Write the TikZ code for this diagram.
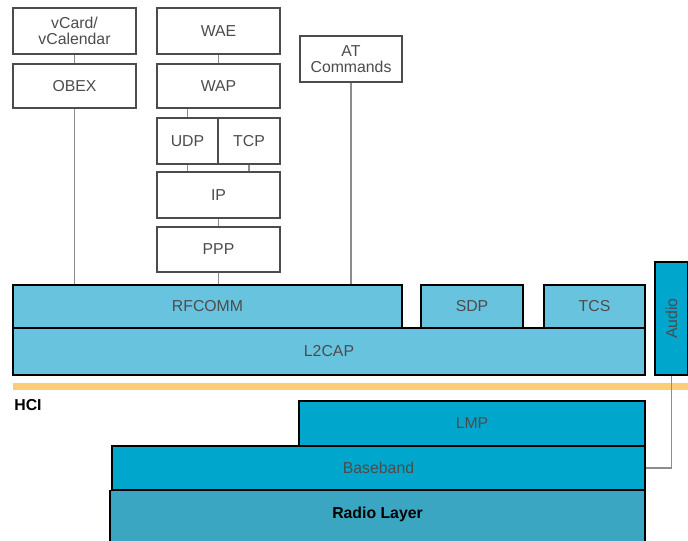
\documentclass[tikz,border=0pt]{standalone}
\usepackage{fontspec}
\setmainfont{Liberation Sans}
\usepackage{tikz}
\definecolor{gris}{rgb}{0.55,0.55,0.55}
\definecolor{grisfonce}{rgb}{0.3,0.3,0.3}
\definecolor{bleupale}{RGB}{104,196,222}
\definecolor{bleuvif}{RGB}{0,166,204}
\definecolor{bleuradio}{RGB}{58,166,194}
\definecolor{orangehci}{RGB}{252,204,120}

\begin{document}
\begin{tikzpicture}[x=0.02cm, y=-0.02cm, font=\fontsize{9}{9.5}\selectfont]
  \tikzstyle{proto}=[rectangle, draw=grisfonce, fill=white, text=grisfonce, inner sep=0pt, align=center, line width=0.6pt]
  \tikzstyle{layer}=[rectangle, draw=black, text=grisfonce, inner sep=0pt, line width=0.8pt]
  \tikzstyle{link}=[draw=gris, line width=0.6pt]

  \useasboundingbox (0,0) rectangle (688,540);

	% upper protocols
	\node[proto, minimum width=2.46cm, minimum height=0.92cm] (VCARD) at (74.5,31) {vCard/\\vCalendar};
	\node[proto, minimum width=2.46cm, minimum height=0.88cm] (OBEX) at (74.5,86) {OBEX};
	\node[proto, minimum width=2.46cm, minimum height=0.92cm] (WAE) at (218.5,31) {WAE};
	\node[proto, minimum width=2.46cm, minimum height=0.88cm] (WAP) at (218.5,86) {WAP};
	\node[proto, minimum width=1.22cm, minimum height=0.92cm] (UDP) at (187.5,141) {UDP};
	\node[proto, minimum width=1.24cm, minimum height=0.92cm] (TCP) at (249,141) {TCP};
	\node[proto, minimum width=2.46cm, minimum height=0.92cm] (IP) at (218.5,195) {IP};
	\node[proto, minimum width=2.46cm, minimum height=0.90cm] (PPP) at (218.5,249.5) {PPP};
	\node[proto, minimum width=2.04cm, minimum height=0.92cm] (AT) at (351,59) {AT\\Commands};

	% core layers
	\node[layer, fill=bleupale, minimum width=7.78cm, minimum height=0.86cm] (RFCOMM) at (207.5,306.5) {RFCOMM};
	\node[layer, fill=bleupale, minimum width=2.04cm, minimum height=0.86cm] (SDP) at (472,306.5) {SDP};
	\node[layer, fill=bleupale, minimum width=2.02cm, minimum height=0.86cm] (TCS) at (594.5,306.5) {TCS};
	\node[layer, fill=bleupale, minimum width=12.64cm, minimum height=0.94cm] (L2CAP) at (329,351.5) {L2CAP};
	\node[layer, fill=bleuvif, minimum width=0.66cm, minimum height=2.26cm] (AUDIO) at (671.5,318.5) {\rotatebox{90}{Audio}};

	% HCI
	\draw[orangehci, line width=0.15cm] (13,386.5) -- (688,386.5);
	\node[anchor=west, font=\fontsize{9}{9.5}\selectfont\bfseries, inner sep=0pt] (HCI) at (14,405) {HCI};

	% lower layers
	\node[layer, fill=bleuvif, minimum width=6.92cm, minimum height=0.90cm] (LMP) at (472,423.5) {LMP};
	\node[layer, fill=bleuvif, minimum width=10.66cm, minimum height=0.88cm] (BASEBAND) at (378.5,468) {Baseband};
	\node[layer, fill=bleuradio, text=black, font=\fontsize{9}{9.5}\selectfont\bfseries, text depth=6.4pt, minimum width=10.7cm, minimum height=1.1cm] (RADIO) at (377.5,518) {Radio Layer};

	\path[link]
		(VCARD) edge (OBEX)
		(WAE) edge (WAP)
		(IP) edge (PPP)
		(UDP.north) edge (UDP.north |- WAP.south)
		(UDP.south) edge (UDP.south |- IP.north)
		(TCP.south) edge (TCP.south |- IP.north)
		(OBEX.south) edge (OBEX.south |- RFCOMM.north)
		(PPP.south) edge (PPP.south |- RFCOMM.north)
		(AT.south) edge (AT.south |- RFCOMM.north)
		;
	\draw[link] (AUDIO.south) |- (BASEBAND.east);

\end{tikzpicture}
\end{document}
